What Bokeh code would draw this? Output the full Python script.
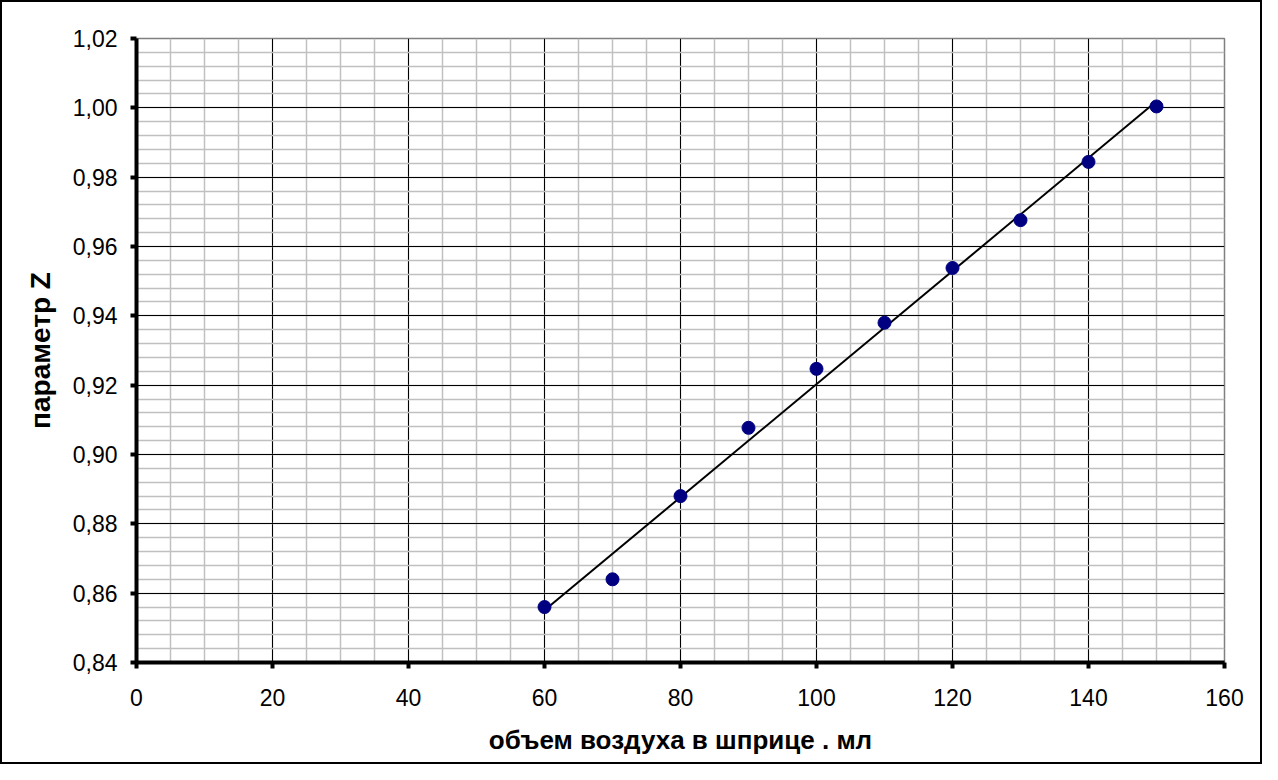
import numpy as np
from bokeh.plotting import figure
from bokeh.models import FixedTicker, ColumnDataSource
from bokeh.embed import file_html
from bokeh.resources import INLINE

# data
volume_ml = [60, 70, 80, 90, 100, 110, 120, 130, 140, 150]
param_z = [0.856, 0.864, 0.888, 0.9077, 0.9247, 0.938, 0.9538, 0.9676, 0.9844, 1.0004]

x_ticks = [0, 20, 40, 60, 80, 100, 120, 140, 160]
y_ticks = [0.84, 0.86, 0.88, 0.90, 0.92, 0.94, 0.96, 0.98, 1.00, 1.02]
y_tick_labels = ["0,84", "0,86", "0,88", "0,90", "0,92", "0,94", "0,96", "0,98", "1,00", "1,02"]
x_minor = [v for v in range(0, 161, 5)]
y_minor = [round(0.84 + 0.004 * i, 3) for i in range(46)]

x_title = "объем воздуха в шприце . мл"
y_title = "параметр Z"

FONT = "Liberation Sans"

p = figure(frame_width=1088, frame_height=624,
           min_border_left=134, min_border_right=36,
           min_border_top=36, min_border_bottom=100,
           x_range=(0, 160), y_range=(0.84, 1.02),
           output_backend="svg", toolbar_location=None,
           background_fill_color="white", border_fill_color="white")
p.styles = {"border": "2px solid black"}

p.outline_line_color = "#808080"
p.outline_line_width = 1.5

p.xaxis.ticker = FixedTicker(ticks=x_ticks, minor_ticks=x_minor)
p.yaxis.ticker = FixedTicker(ticks=y_ticks, minor_ticks=y_minor)
p.yaxis.major_label_overrides = {t: l for t, l in zip(y_ticks, y_tick_labels)}

for ax in (p.xaxis[0], p.yaxis[0]):
    ax.axis_line_width = 4
    ax.axis_line_color = "black"
    ax.major_tick_line_width = 4
    ax.major_tick_line_color = "black"
    ax.major_tick_out = 6
    ax.major_tick_in = 0
    ax.minor_tick_line_color = None
    ax.major_label_text_font = FONT
    ax.major_label_text_font_size = "23px"
    ax.major_label_text_color = "black"
    ax.axis_label_text_font = FONT
    ax.axis_label_text_font_style = "bold"
    ax.axis_label_text_color = "black"

p.xaxis.axis_label = x_title
p.yaxis.axis_label = y_title
p.xaxis.axis_label_text_font_size = "26px"
p.yaxis.axis_label_text_font_size = "28px"
p.xaxis.major_label_standoff = 20
p.yaxis.major_label_standoff = 13
p.xaxis.axis_label_standoff = 16
p.yaxis.axis_label_standoff = 14

for g in (p.xgrid[0], p.ygrid[0]):
    g.grid_line_color = "black"
    g.grid_line_width = 1
    g.minor_grid_line_color = "#c0c0c0"
    g.minor_grid_line_width = 1.5

src = ColumnDataSource(dict(x=volume_ml, y=param_z))

# linear trend line from the data
coef = np.polyfit(volume_ml, param_z, 1)
tx = [volume_ml[0], volume_ml[-1]]
ty = [coef[0] * v + coef[1] for v in tx]
p.line(tx, ty, line_color="black", line_width=2)

p.scatter("x", "y", source=src, size=13, fill_color="#000080", line_color="#000080")

open("out.html", "w").write(file_html(p, INLINE))
